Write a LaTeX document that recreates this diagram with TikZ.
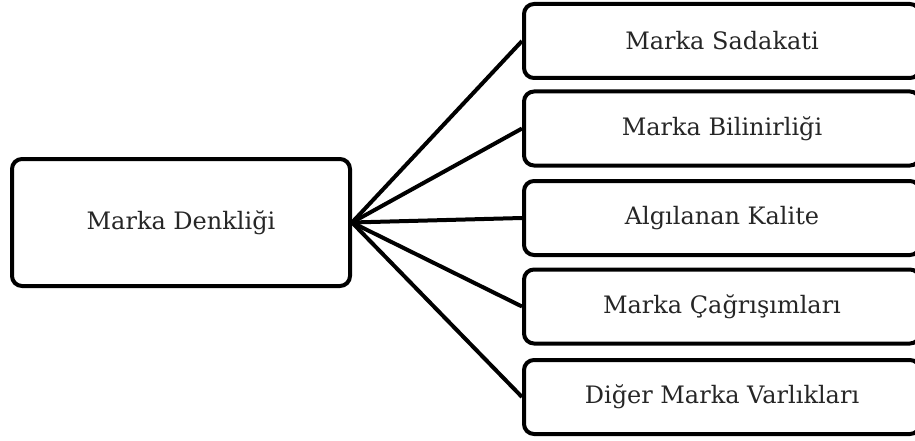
\documentclass[tikz,border=0pt]{standalone}
\usepackage{fontspec}
\setmainfont{DejaVu Serif}
\tikzset{
  kutu/.style={draw, line width=4pt, rounded corners=10pt, align=center,
    font=\fontsize{24}{28}\selectfont, text=black!85},
  bag/.style={line width=4pt}
}
\begin{document}
\begin{tikzpicture}[x=1pt,y=-1pt]
\useasboundingbox (0,0) rectangle (915,441);
\node[kutu, minimum width=338pt, minimum height=127pt] (denk) at (181,222.5) {Marka Denkliği};
\node[kutu, minimum width=396pt, minimum height=74pt] (sadakat) at (722,41) {Marka Sadakati};
\node[kutu, minimum width=396pt, minimum height=74pt] (bilinir) at (722,128.5) {Marka Bilinirliği};
\node[kutu, minimum width=396pt, minimum height=74pt] (kalite) at (722,218) {Algılanan Kalite};
\node[kutu, minimum width=396pt, minimum height=74pt] (cagrisim) at (722,306.5) {Marka Çağrışımları};
\node[kutu, minimum width=396pt, minimum height=74pt] (diger) at (722,397) {Diğer Marka Varlıkları};
\foreach \n in {sadakat,bilinir,kalite,cagrisim,diger}
  \draw[bag] (denk.east) -- (\n.west);
\end{tikzpicture}
\end{document}
